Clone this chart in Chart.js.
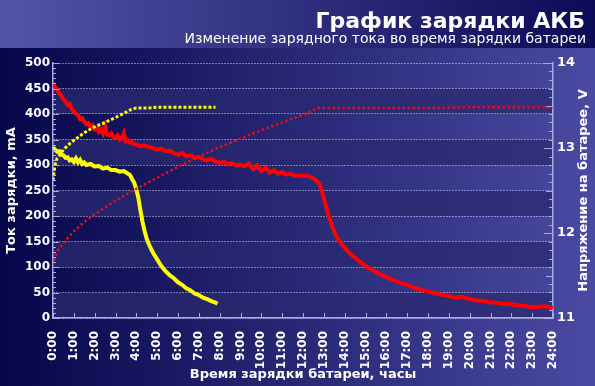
<!DOCTYPE html>
<html>
<head>
<meta charset="utf-8">
<script src="https://cdn.jsdelivr.net/npm/chart.js@4/dist/chart.umd.min.js"></script>
<style>
  body { margin: 0; background: #07074c; }
  #wrap { width: 595px; height: 386px; }
</style>
</head>
<body>
<div id="wrap"><canvas id="chartCharge" width="595" height="386"></canvas></div>
<script>
// 24-часовое зарядное: ток, mA
const redCurrentHours = [0, 0.1, 0.2, 0.3, 0.4, 0.5, 0.6, 0.7, 0.8, 0.9, 1.0, 1.1, 1.2, 1.3, 1.4, 1.5, 1.6, 1.7, 1.8, 1.9,
  2.0, 2.1, 2.2, 2.3, 2.4, 2.5, 2.6, 2.7, 2.8, 2.9, 3.0, 3.1, 3.2, 3.3, 3.4, 3.5, 3.6, 3.7, 3.8, 3.9,
  4.0, 4.2, 4.4, 4.6, 4.8, 5.0, 5.2, 5.4, 5.6, 5.8, 6.0, 6.2, 6.4, 6.6, 6.8, 7.0, 7.2, 7.4, 7.6, 7.8,
  8.0, 8.2, 8.4, 8.6, 8.8, 9.0, 9.2, 9.4, 9.6, 9.8, 10.0, 10.2, 10.4, 10.6, 10.8, 11.0, 11.2, 11.4, 11.6, 11.8,
  12.0, 12.2, 12.4, 12.6, 12.8, 13.0, 13.2, 13.4, 13.6, 13.8, 14.0, 14.3, 14.6, 15.0, 15.3, 15.6, 16.0, 16.3, 16.6,
  17.0, 17.3, 17.6, 18.0, 18.3, 18.6, 19.0, 19.3, 19.6, 20.0, 20.3, 20.6, 21.0, 21.3, 21.6, 22.0, 22.3, 22.6,
  23.0, 23.3, 23.6, 24.0];
const redCurrentMA = [460, 452, 448, 440, 436, 428, 425, 418, 420, 410, 405, 400, 398, 390, 392, 385, 380, 382, 375, 378,
  370, 372, 365, 370, 362, 376, 360, 358, 362, 355, 353, 358, 350, 352, 362, 346, 348, 343, 345, 341,
  340, 337, 338, 335, 333, 330, 332, 327, 328, 323, 320, 324, 317, 319, 314, 316, 311, 309, 312, 307,
  304, 306, 301, 304, 299, 301, 297, 303, 292, 299, 288, 295, 285, 290, 283, 286, 281, 283, 279, 280,
  278, 279, 276, 271, 262, 235, 205, 180, 160, 148, 138, 125, 115, 102, 95, 88, 80, 75, 70,
  65, 60, 56, 52, 49, 46, 43, 40, 42, 37, 35, 34, 31, 30, 28, 27, 25, 24,
  21, 22, 23, 20];

// 24-часовое зарядное: напряжение, V
const redVoltHours = [0, 0.1, 0.25, 0.5, 0.75, 1.0, 1.5, 2.0, 2.5, 3.0, 3.5, 4.0, 5.0, 6.0, 7.0, 8.0, 9.0, 10.0, 11.0, 12.0, 12.7,
  14, 16, 18, 20, 22, 24];
const redVoltV = [11.62, 11.72, 11.80, 11.88, 11.95, 12.02, 12.13, 12.22, 12.30, 12.38, 12.45, 12.52, 12.65, 12.78, 12.90,
  13.01, 13.11, 13.21, 13.30, 13.39, 13.47, 13.47, 13.47, 13.47, 13.48, 13.48, 13.48];

// 8-часовое зарядное: ток, mA
const yellowCurrentHours = [0, 0.1, 0.2, 0.3, 0.4, 0.5, 0.6, 0.7, 0.8, 0.9, 1.0, 1.1, 1.2, 1.3, 1.4, 1.5, 1.6, 1.8,
  2.0, 2.2, 2.4, 2.6, 2.8, 3.0, 3.2, 3.4, 3.6, 3.7, 3.8, 3.9, 4.0, 4.1, 4.2, 4.3, 4.4, 4.5, 4.6, 4.7, 4.8,
  5.0, 5.2, 5.4, 5.6, 5.8, 6.0, 6.2, 6.4, 6.6, 6.8, 7.0, 7.2, 7.4, 7.6, 7.8, 7.9];
const yellowCurrentMA = [335, 330, 326, 327, 320, 319, 314, 315, 309, 311, 306, 313, 305, 310, 302, 305, 300, 302,
  297, 298, 293, 295, 290, 290, 287, 288, 283, 280, 272, 265, 252, 235, 210, 188, 170, 155, 145, 136, 128,
  115, 102, 92, 84, 78, 70, 65, 58, 54, 48, 45, 40, 37, 33, 30, 28];

// 8-часовое зарядное: напряжение, V
const yellowVoltHours = [0, 0.05, 0.1, 0.2, 0.35, 0.5, 0.75, 1.0, 1.5, 2.0, 2.5, 3.0, 3.5, 3.8, 4.0, 4.5, 5, 6, 7, 7.8];
const yellowVoltV = [12.62, 12.72, 12.80, 12.88, 12.93, 12.98, 13.04, 13.09, 13.18, 13.25, 13.30, 13.36, 13.42, 13.46,
  13.47, 13.47, 13.48, 13.48, 13.48, 13.48];

const chartTitle = 'График зарядки АКБ';
const chartSubtitle = 'Изменение зарядного тока во время зарядки батареи';
const xTitle = 'Время зарядки батареи, часы';
const yTitle = 'Ток зарядки, mA';
const y2Title = 'Напряжение на батарее, V';

const FONT = "'DejaVu Sans', Verdana, sans-serif";
const AXIS_COLOR = '#a9a9e6';

function toPoints(xs, ys) {
  return xs.map(function(x, i) { return { x: x, y: ys[i] }; });
}

// фон, шапка и полосы
const backgroundPlugin = {
  id: 'backgroundPlugin',
  beforeDraw: function(chart) {
    const ctx = chart.ctx;
    const w = chart.width, h = chart.height;
    const area = chart.chartArea;
    ctx.save();
    let g = ctx.createLinearGradient(0, 0, w, 0);
    g.addColorStop(0, '#06064a');
    g.addColorStop(1, '#4a4aa2');
    ctx.fillStyle = g;
    ctx.fillRect(0, 0, w, h);

    g = ctx.createLinearGradient(0, 0, w, 0);
    g.addColorStop(0, '#5454a8');
    g.addColorStop(1, '#0b0b56');
    ctx.fillStyle = g;
    ctx.fillRect(0, 0, w, 48);

    ctx.fillStyle = '#ffffff';
    ctx.textAlign = 'right';
    ctx.textBaseline = 'alphabetic';
    ctx.font = 'bold 22px ' + FONT;
    ctx.fillText(chartTitle, 585, 28);
    ctx.font = '14px ' + FONT;
    ctx.fillText(chartSubtitle, 586, 43);

    // полосы
    const y = chart.scales.y;
    g = ctx.createLinearGradient(area.left, 0, area.right, 0);
    g.addColorStop(0, '#22226a');
    g.addColorStop(1, '#30307b');
    ctx.fillStyle = g;
    for (let v = 0; v < 500; v += 100) {
      const top = y.getPixelForValue(v + 50);
      const bottom = y.getPixelForValue(v);
      ctx.fillRect(area.left, top, area.right - area.left, bottom - top);
    }
    ctx.restore();
  },
  afterDraw: function(chart) {
    const ctx = chart.ctx;
    const area = chart.chartArea;
    const x = chart.scales.x, y = chart.scales.y, y2 = chart.scales.y2;
    ctx.save();
    ctx.strokeStyle = AXIS_COLOR;
    ctx.lineWidth = 1;
    ctx.beginPath();
    for (let v = 0; v <= 500; v += 10) {
      const py = Math.round(y.getPixelForValue(v)) + 0.5;
      const len = v % 50 === 0 ? 6 : 3;
      ctx.moveTo(area.left, py);
      ctx.lineTo(area.left + len, py);
    }
    for (let i = 0; i <= 30; i++) {
      const py = Math.round(y2.getPixelForValue(11 + i / 10)) + 0.5;
      const len = i % 10 === 0 ? 9 : (i % 5 === 0 ? 7 : 4);
      ctx.moveTo(area.right, py);
      ctx.lineTo(area.right - len, py);
    }
    for (let hr = 0; hr <= 24; hr++) {
      const px = Math.round(x.getPixelForValue(hr)) + 0.5;
      ctx.moveTo(px, area.bottom);
      ctx.lineTo(px, area.bottom - 5);
    }
    ctx.stroke();

    ctx.fillStyle = '#ffffff';
    ctx.font = 'bold 13px ' + FONT;
    ctx.textAlign = 'center';
    ctx.textBaseline = 'middle';
    ctx.translate(584, (area.top + area.bottom) / 2);
    ctx.rotate(-Math.PI / 2);
    ctx.fillText(y2Title, 0, 0);
    ctx.restore();
  }
};

let ctx = document.getElementById('chartCharge');

let chargeChart = new Chart(ctx, {
  type: 'line',
  data: {
    datasets: [
      {
        data: toPoints(redVoltHours, redVoltV),
        yAxisID: 'y2',
        borderColor: '#dd1020',
        borderWidth: 2.5,
        borderDash: [2.5, 2.5],
        pointRadius: 0
      },
      {
        data: toPoints(yellowVoltHours, yellowVoltV),
        yAxisID: 'y2',
        borderColor: '#ffff00',
        borderWidth: 3,
        borderDash: [3, 2],
        pointRadius: 0
      },
      {
        data: toPoints(redCurrentHours, redCurrentMA),
        yAxisID: 'y',
        borderColor: '#ff0000',
        borderWidth: 4,
        pointRadius: 0
      },
      {
        data: toPoints(yellowCurrentHours, yellowCurrentMA),
        yAxisID: 'y',
        borderColor: '#ffff00',
        borderWidth: 4,
        pointRadius: 0
      }
    ]
  },
  options: {
    responsive: false,
    animation: false,
    layout: { padding: { top: 63, left: 0, right: 0, bottom: 0 } },
    plugins: {
      legend: { display: false },
      tooltip: { enabled: false }
    },
    scales: {
      x: {
        type: 'linear',
        min: 0,
        max: 24,
        afterFit: function(scale) { scale.height = 68; },
        ticks: {
          stepSize: 1,
          minRotation: 90,
          maxRotation: 90,
          padding: 5,
          color: '#ffffff',
          font: { family: FONT, size: 12, weight: 'bold' },
          callback: function(v) { return v + ':00'; }
        },
        grid: { display: false },
        border: { color: AXIS_COLOR, width: 1.5 },
        title: {
          display: true,
          text: xTitle,
          color: '#ffffff',
          font: { family: FONT, size: 13, weight: 'bold' },
          padding: { top: 0, bottom: 4 }
        }
      },
      y: {
        position: 'left',
        min: 0,
        max: 500,
        afterFit: function(scale) { scale.width = 53; },
        ticks: {
          stepSize: 50,
          padding: 3,
          color: '#ffffff',
          font: { family: FONT, size: 12, weight: 'bold' }
        },
        grid: { color: 'rgba(255,255,255,0.85)', lineWidth: 1, drawTicks: false },
        border: { color: AXIS_COLOR, width: 1.5, dash: [1, 2] },
        title: {
          display: true,
          text: yTitle,
          color: '#ffffff',
          font: { family: FONT, size: 13, weight: 'bold' },
          padding: { top: 4, bottom: 0 }
        }
      },
      y2: {
        position: 'right',
        min: 11,
        max: 14,
        afterFit: function(scale) { scale.width = 42; },
        ticks: {
          stepSize: 1,
          padding: 4,
          color: '#ffffff',
          font: { family: FONT, size: 13, weight: 'bold' }
        },
        grid: { drawOnChartArea: false, drawTicks: false },
        border: { color: AXIS_COLOR, width: 1.5 }
      }
    }
  },
  plugins: [backgroundPlugin]
});
</script>
</body>
</html>
